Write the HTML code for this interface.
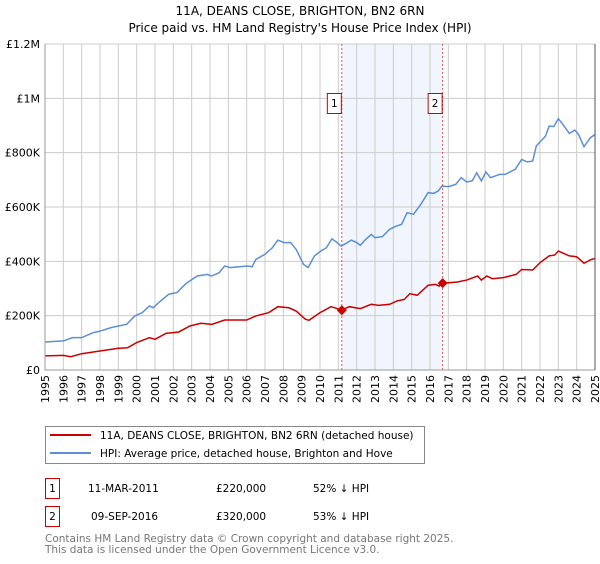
<!DOCTYPE html>
<html><head><meta charset="utf-8"><style>
body{margin:0;background:#fff;font-family:"DejaVu Sans","Liberation Sans",sans-serif;}
svg text{font-family:"DejaVu Sans","Liberation Sans",sans-serif;}
</style></head><body>
<svg id="chart" width="600" height="560" viewBox="0 0 600 560" xmlns="http://www.w3.org/2000/svg">
<text x="300" y="15" text-anchor="middle" font-size="12">11A, DEANS CLOSE, BRIGHTON, BN2 6RN</text>
<text x="300" y="32" text-anchor="middle" font-size="12">Price paid vs. HM Land Registry's House Price Index (HPI)</text>
<g id="plot"></g>
<g>
<rect x="45.5" y="426.5" width="379" height="37" fill="#fff" stroke="#888"/>
<line x1="50" y1="435" x2="91" y2="435" stroke="#cc0000" stroke-width="2"/>
<text x="100" y="439" font-size="10.5">11A, DEANS CLOSE, BRIGHTON, BN2 6RN (detached house)</text>
<line x1="50" y1="453" x2="91" y2="453" stroke="#5b8fd6" stroke-width="2"/>
<text x="100" y="457" font-size="10.5">HPI: Average price, detached house, Brighton and Hove</text>
</g>
<g font-size="10.5">
<rect x="45.5" y="478.5" width="14" height="20" fill="#fff" stroke="#cc0000"/>
<text x="52.5" y="492" text-anchor="middle">1</text>
<text x="88" y="492">11-MAR-2011</text>
<text x="216" y="492">£220,000</text>
<text x="313" y="492">52% ↓ HPI</text>
<rect x="45.5" y="506.5" width="14" height="20" fill="#fff" stroke="#cc0000"/>
<text x="52.5" y="520" text-anchor="middle">2</text>
<text x="91" y="520">09-SEP-2016</text>
<text x="216" y="520">£320,000</text>
<text x="313" y="520">53% ↓ HPI</text>
</g>
<g font-size="10.5" fill="#777">
<text x="45" y="542">Contains HM Land Registry data © Crown copyright and database right 2025.</text>
<text x="45" y="553">This data is licensed under the Open Government Licence v3.0.</text>
</g>
</svg>
<script>
const yTicks=[0,200000,400000,600000,800000,1000000,1200000];
const yTickLabels=["£0","£200K","£400K","£600K","£800K","£1M","£1.2M"];
const years=[1995,1996,1997,1998,1999,2000,2001,2002,2003,2004,2005,2006,2007,2008,2009,2010,2011,2012,2013,2014,2015,2016,2017,2018,2019,2020,2021,2022,2023,2024,2025];
const hpiX=[1995,1996,1996.5,1997,1997.6,1998,1998.6,1999,1999.45,1999.9,2000.3,2000.7,2000.9,2001.2,2001.75,2002.2,2002.7,2003.3,2003.85,2004.1,2004.5,2004.8,2005.1,2005.6,2006.05,2006.3,2006.5,2007,2007.4,2007.7,2008.05,2008.4,2008.7,2009.1,2009.35,2009.7,2010.05,2010.35,2010.65,2010.9,2011.15,2011.5,2011.7,2012,2012.2,2012.45,2012.8,2013,2013.4,2013.8,2014.1,2014.45,2014.75,2015.1,2015.5,2015.9,2016.2,2016.45,2016.65,2017,2017.4,2017.7,2018,2018.3,2018.55,2018.8,2019.05,2019.3,2019.8,2020.1,2020.65,2021,2021.3,2021.6,2021.8,2022.3,2022.5,2022.75,2023,2023.25,2023.6,2023.9,2024.1,2024.4,2024.75,2025];
const hpiV=[103,107,119,119,137,143,156,162,168,199,211,236,229,248,279,285,319,346,352,346,358,383,377,380,383,380,407,426,450,478,469,469,444,389,377,420,438,450,483,471,456,469,478,469,459,478,499,487,491,518,528,536,579,573,610,653,650,659,677,675,683,708,692,696,726,696,729,708,720,720,739,775,766,769,825,861,898,896,925,904,871,883,867,822,855,867];
const ppX=[1995,1996,1996.4,1997,1998,1999,1999.5,2000,2000.7,2001,2001.6,2002.3,2002.9,2003.5,2004.1,2004.8,2006,2006.5,2007.2,2007.7,2008.3,2008.7,2009.2,2009.4,2010,2010.6,2011.19,2011.6,2012.2,2012.8,2013.2,2013.8,2014.2,2014.6,2014.9,2015.3,2015.9,2016.3,2016.5,2016.69,2017,2017.5,2018,2018.6,2018.8,2019.1,2019.4,2020,2020.7,2021,2021.6,2022,2022.5,2022.8,2023,2023.6,2024,2024.4,2024.8,2025];
const ppV=[52,54,49,60,70,80,82,101,119,113,135,140,162,172,168,184,184,199,211,233,229,217,187,183,211,233,221,233,226,242,238,242,254,260,281,275,312,315,309,321,321,324,331,346,331,346,336,340,352,370,368,395,420,423,438,420,417,393,407,410];
const saleX=[2011.19,2016.69];
const saleV=[220000,320000];
const saleLabels=["1","2"];
const L=45,R=595,T=44,B=370;
const xs=y=>L+(y-1995)/30*(R-L);
const ys=v=>B-v/1200000*(B-T);
const NS="http://www.w3.org/2000/svg";
const g=document.getElementById('plot');
function mk(tag,attrs,parent){const e=document.createElementNS(NS,tag);for(const k in attrs)e.setAttribute(k,attrs[k]);(parent||g).appendChild(e);return e;}
const sh=mk('rect',{x:xs(saleX[0]),y:T,width:xs(saleX[1])-xs(saleX[0]),height:B-T,fill:'#eef3fd',opacity:0.8});


years.forEach(y=>{const l=mk('line',{x1:xs(y),x2:xs(y),y1:T,y2:B,stroke:'#ccc','stroke-width':1});


const t=mk('text',{transform:`translate(${xs(y)+4},${B+5}) rotate(-90)`,'text-anchor':'end','font-size':11});t.textContent=y;

});
yTicks.forEach((v,i)=>{const l=mk('line',{x1:L,x2:R,y1:ys(v),y2:ys(v),stroke:'#ccc','stroke-width':1});


const t=mk('text',{x:L-5,y:ys(v)+4,'text-anchor':'end','font-size':11});t.textContent=yTickLabels[i];

});
saleX.forEach((x,i)=>{const l=mk('line',{x1:xs(x),x2:xs(x),y1:T,y2:B,stroke:'#e05050','stroke-width':1,'stroke-dasharray':'2,2'});


const r=mk('rect',{x:xs(x)-14.5,y:93.5,width:14,height:20,fill:'#fff',stroke:'#cc0000'});


const t=mk('text',{x:xs(x)-7.5,y:107,'text-anchor':'middle','font-size':10.5});t.textContent=saleLabels[i];

});
const hp=mk('polyline',{points:hpiX.map((x,i)=>xs(x)+','+ys(hpiV[i]*1000)).join(' '),fill:'none',stroke:'#5b8fd6','stroke-width':1.5});


const pp=mk('polyline',{points:ppX.map((x,i)=>xs(x)+','+ys(ppV[i]*1000)).join(' '),fill:'none',stroke:'#cc0000','stroke-width':1.5});


saleX.forEach((x,i)=>{const cx=xs(x),cy=ys(saleV[i]);const d=mk('polygon',{points:`${cx},${cy-5} ${cx+5},${cy} ${cx},${cy+5} ${cx-5},${cy}`,fill:'#cc0000'});

});
const ax=mk('line',{x1:L,x2:L,y1:T,y2:B,stroke:'#999'});


const ax2=mk('line',{x1:L,x2:R,y1:B,y2:B,stroke:'#999'});


const ax3=mk('line',{x1:R,x2:R,y1:T,y2:B,stroke:'#555'});


</script>
</body></html>
